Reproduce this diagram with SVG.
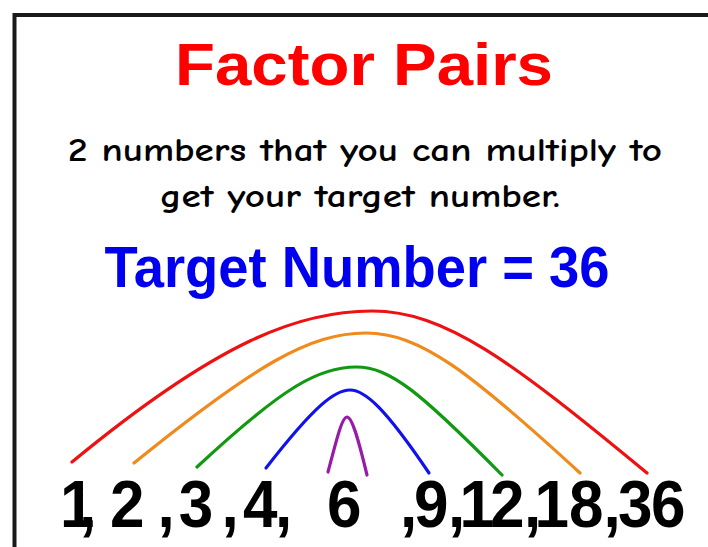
<svg xmlns="http://www.w3.org/2000/svg" width="708" height="547" viewBox="0 0 708 547">
<style>
.frame{stroke:#1a1a1a;stroke-width:4;fill:none}
.arc{fill:none;stroke-width:3.2;stroke-linecap:round}
.title{font-family:"Liberation Sans",Arial,sans-serif;font-weight:bold}
.sub{font-family:"Comic Neue","Liberation Sans",Arial,sans-serif;font-weight:bold;font-size:32px;fill:#000}
.num{font-family:"Liberation Sans",Arial,sans-serif;font-weight:bold;font-size:62px;fill:#000}
</style>
<rect width="708" height="547" fill="#fff"/>
<g id="frame">
<path class="frame" d="M14.5,547 V15 H708"/>
</g>
<g id="title">
<text class="title" x="364" y="85" font-size="60" fill="#ff0000" text-anchor="middle" textLength="378" lengthAdjust="spacingAndGlyphs">Factor Pairs</text>
</g>
<g id="definition">
<text class="sub" x="365" y="161" text-anchor="middle" textLength="594" lengthAdjust="spacingAndGlyphs">2 numbers that you can multiply to</text>
<text class="sub" x="360" y="207" text-anchor="middle" textLength="400" lengthAdjust="spacingAndGlyphs">get your target number.</text>
</g>
<g id="target">
<text class="title" x="357" y="287" font-size="58" fill="#0000ee" text-anchor="middle" textLength="505" lengthAdjust="spacingAndGlyphs">Target Number = 36</text>
</g>
<g id="connectors">
<path class="arc" stroke="#ee1111" d="M72,462 C220,340 300,311 372,311 C445,311 510,360 647,473"/>
<path class="arc" stroke="#f08a1c" d="M134,463 C255,365 310,333 366,333 C420,333 470,372 580,473"/>
<path class="arc" stroke="#119911" d="M197,467 C285,385 320,367 356,367 C390,367 420,392 502,475"/>
<path class="arc" stroke="#1111ee" d="M266,468 C315,405 335,390 350,390 C365,390 385,408 429,473"/>
<path class="arc" stroke="#991aaa" d="M328,472 C337,438 342,417 347,417 C352,417 358,438 367,475"/>
</g>
<g id="numbers" transform="translate(0,527) scale(1,1.07) translate(0,-527)">
<text class="num" x="60" y="527">1</text>
<text class="num" x="79" y="527">,</text>
<text class="num" x="110" y="527">2</text>
<text class="num" x="157.4" y="527">,</text>
<text class="num" x="178.7" y="527">3</text>
<text class="num" x="221.4" y="527">,</text>
<text class="num" x="243" y="527">4</text>
<text class="num" x="275" y="527">,</text>
<text class="num" x="327" y="527">6</text>
<text class="num" x="400" y="527">,</text>
<text class="num" x="414" y="527">9</text>
<text class="num" x="448" y="527">,</text>
<text class="num" x="459.5 490" y="527">12</text>
<text class="num" x="524" y="527">,</text>
<text class="num" x="534.5 569" y="527">18</text>
<text class="num" x="603.4" y="527">,</text>
<text class="num" x="618 651" y="527">36</text>
</g>
</svg>
